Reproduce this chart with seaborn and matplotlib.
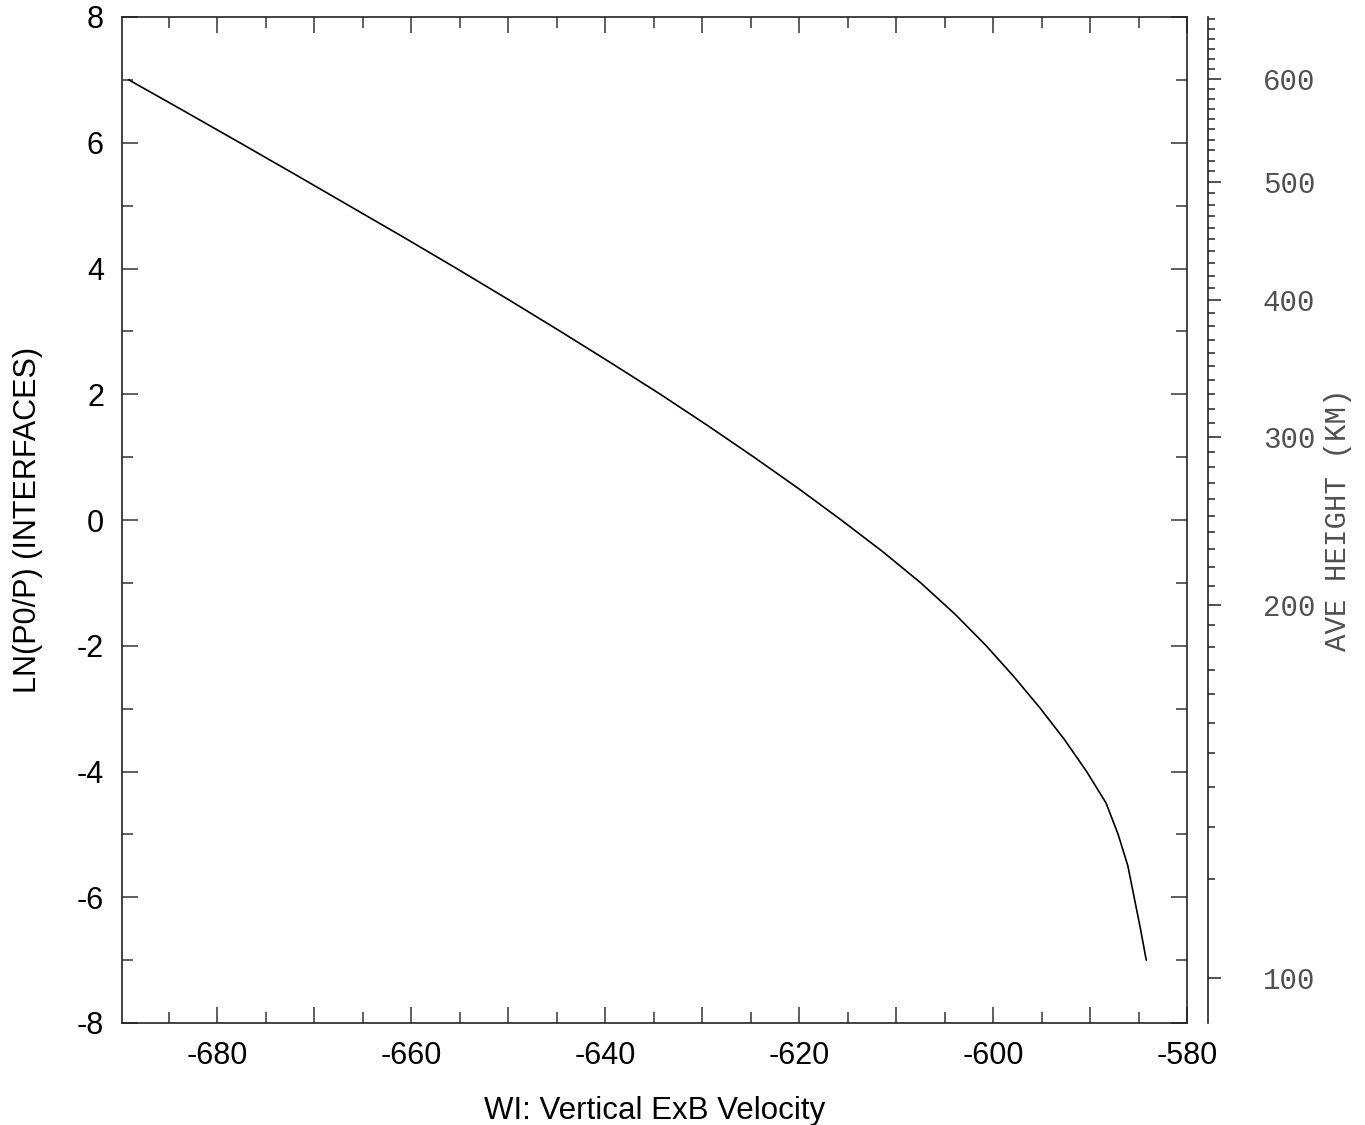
import numpy as np
import matplotlib
matplotlib.use("Agg")
import matplotlib.pyplot as plt
import seaborn as sns
import pandas as pd
from matplotlib.ticker import MultipleLocator, FixedLocator, FuncFormatter

# ---- data ----
lnp_levels = [7.0, 6.5, 6.0, 5.5, 5.0, 4.5, 4.0, 3.5, 3.0, 2.5, 2.0, 1.5, 1.0, 0.5,
              0.0, -0.5, -1.0, -1.5, -2.0, -2.5, -3.0, -3.5, -4.0, -4.5, -5.0,
              -5.5, -6.0, -6.5, -7.0]
wi_velocity = [-689.1, -683.35, -677.65, -672.0, -666.4, -660.8, -655.3, -649.9,
               -644.6, -639.4, -634.3, -629.4, -624.65, -620.05, -615.65, -611.4,
               -607.45, -603.9, -600.7, -597.8, -595.1, -592.6, -590.35, -588.35,
               -587.1, -586.1, -585.45, -584.8, -584.2]

# average height (km) of the interfaces and the ln(P0/P) where each sits
height_km = [100, 110, 120, 130, 140, 150, 160, 170, 180, 190, 200, 210, 220,
             230, 240, 250, 260, 270, 280, 290, 300, 350, 400, 450, 500, 550,
             600, 650]
height_lnp = [-7.280, -5.710, -4.883, -4.247, -3.706, -3.229, -2.767, -2.386,
              -2.020, -1.670, -1.352, -1.050, -0.748, -0.461, -0.191, 0.064,
              0.334, 0.588, 0.843, 1.082, 1.320, 2.449, 3.499, 4.469, 5.376,
              6.219, 7.019, 7.809]
height_major = [100, 200, 300, 400, 500, 600]

x_label = "WI: Vertical ExB Velocity"
y_label = "LN(P0/P) (INTERFACES)"
y2_label = "AVE HEIGHT (KM)"

df = pd.DataFrame({"wi": wi_velocity, "lnp": lnp_levels})

sns.set_style("ticks")
plt.rcParams["font.family"] = ["Liberation Sans", "DejaVu Sans"]
plt.rcParams["axes.unicode_minus"] = False
plt.rcParams["text.color"] = "black"
plt.rcParams["axes.labelcolor"] = "black"
plt.rcParams["xtick.labelcolor"] = "black"
plt.rcParams["ytick.labelcolor"] = "black"

fig = plt.figure(figsize=(13.65, 11.25), dpi=100)
ax = fig.add_axes([122 / 1365, 1 - 1023 / 1125, 1065 / 1365, 1006 / 1125])

sns.lineplot(data=df, x="wi", y="lnp", sort=False, estimator=None,
             color="black", linewidth=1.2, ax=ax)

ax.set_xlim(-689.8, -580)
ax.set_ylim(-8, 8)

ax.xaxis.set_major_locator(MultipleLocator(10))
ax.xaxis.set_minor_locator(MultipleLocator(5))
ax.xaxis.set_major_formatter(FuncFormatter(
    lambda v, p: f"{v:.0f}" if abs(v) % 20 == 0 else ""))
ax.yaxis.set_major_locator(MultipleLocator(2))
ax.yaxis.set_minor_locator(MultipleLocator(1))
ax.yaxis.set_major_formatter(FuncFormatter(lambda v, p: f"{v:.0f}"))

ax.tick_params(which="both", direction="in", top=True, right=True,
               color="#333333", width=1.1, labelcolor="black")
ax.tick_params(which="major", length=11.5, labelsize=22, pad=13)
ax.tick_params(which="minor", length=7.7)
for s in ax.spines.values():
    s.set_linewidth(1.2)
    s.set_color("#222222")

ax.set_xlabel(x_label, fontsize=22.5, labelpad=18, color="black")
ax.set_ylabel(y_label, fontsize=22, labelpad=24, color="black")


def _interp_ext(v, xp, fp):
    v = np.asarray(v, dtype=float)
    xp = np.asarray(xp, dtype=float)
    fp = np.asarray(fp, dtype=float)
    out = np.interp(v, xp, fp)
    s0 = (fp[1] - fp[0]) / (xp[1] - xp[0])
    s1 = (fp[-1] - fp[-2]) / (xp[-1] - xp[-2])
    out = np.where(v < xp[0], fp[0] + (v - xp[0]) * s0, out)
    out = np.where(v > xp[-1], fp[-1] + (v - xp[-1]) * s1, out)
    return out


def lnp_to_height(z):
    return _interp_ext(z, height_lnp, height_km)


def height_to_lnp(h):
    return _interp_ext(h, height_km, height_lnp)


sec = ax.secondary_yaxis((1208 - 122) / 1065, functions=(lnp_to_height, height_to_lnp))
sec.yaxis.set_major_locator(FixedLocator(height_major))
sec.yaxis.set_minor_locator(FixedLocator(list(range(100, 661, 10))))
sec.yaxis.set_major_formatter(FuncFormatter(lambda v, p: f"{v:.0f}"))
sec.tick_params(which="both", direction="out", color="#222222", width=1.1,
                labelcolor="#505050")
sec.tick_params(which="major", length=9.4, labelsize=21, pad=30)
sec.tick_params(which="minor", length=5)
for lab in sec.get_yticklabels():
    lab.set_family("Liberation Mono")
for s in sec.spines.values():
    s.set_linewidth(1.2)
    s.set_color("#222222")
sec.set_ylabel(y2_label, fontsize=21, family="Liberation Mono",
               color="#505050", labelpad=6)

fig.savefig("out.png", dpi=100)
